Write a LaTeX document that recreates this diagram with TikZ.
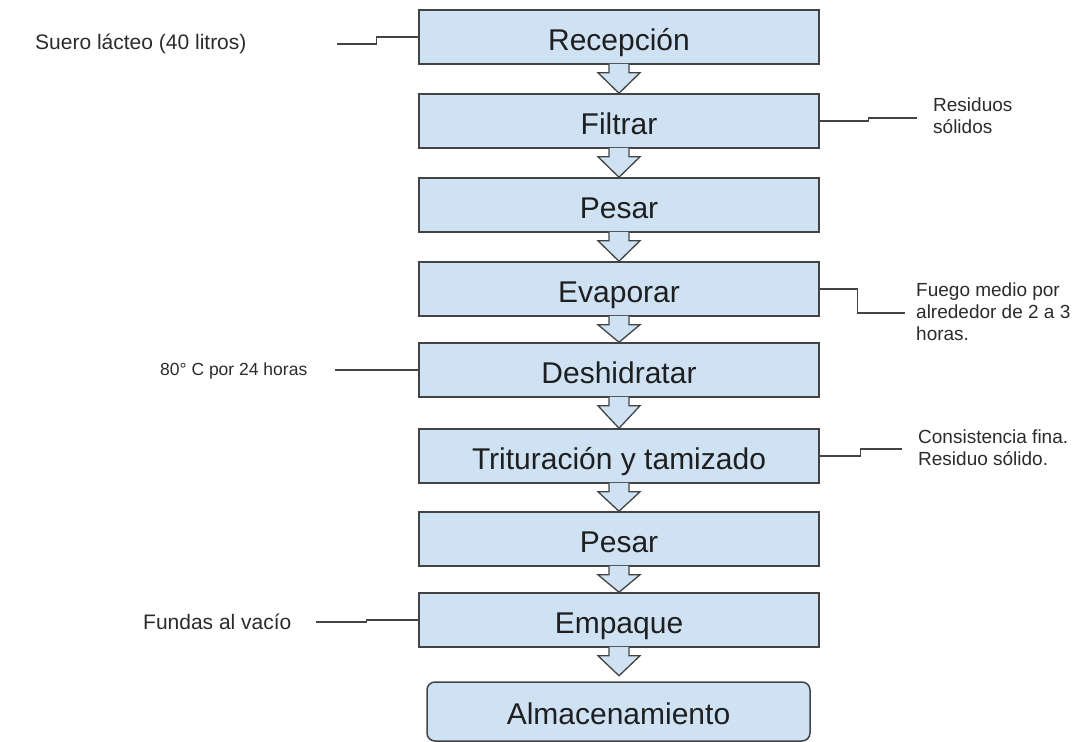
\documentclass[tikz,border=0pt]{standalone}
\usepackage{fontspec}
\setmainfont{Liberation Sans}
\usetikzlibrary{calc}
\definecolor{boxfill}{HTML}{CFE2F3}
\definecolor{boxline}{HTML}{434343}
\definecolor{txt}{HTML}{1F1F1F}
\definecolor{notetxt}{HTML}{2B2B2B}
\newcommand{\flowarrow}[2]{%
  \fill[boxfill] ($(#1)+(-10,-1)$) -- ($(#1)+(-10,8)$) -- ($(#1)+(-21,8)$) -- (#2) -- ($(#1)+(21,8)$) -- ($(#1)+(10,8)$) -- ($(#1)+(10,-1)$) -- cycle;
  \draw[draw=boxline, line width=1.3pt, line join=miter] ($(#1)+(-10,-0.75)$) -- ($(#1)+(-10,8)$) -- ($(#1)+(-21,8)$) -- (#2) -- ($(#1)+(21,8)$) -- ($(#1)+(10,8)$) -- ($(#1)+(10,-0.75)$);
}
\begin{document}
\begin{tikzpicture}[x=1pt,y=-1pt,
  stepbox/.style={draw=boxline, fill=boxfill, line width=1.5pt, minimum width=400pt, minimum height=54pt, inner sep=0pt, text height=26pt, text depth=0pt, font=\fontsize{30}{36}\selectfont, text=txt},
  endbox/.style={stepbox, minimum width=383pt, minimum height=59pt, rounded corners=8pt},
  link/.style={draw=boxline, line width=1.3pt},
  note/.style={anchor=west, align=left, text=notetxt, inner sep=0pt},
  bignote/.style={note, font=\fontsize{21}{25}\selectfont},
  smallnote/.style={note, font=\fontsize{19}{22}\selectfont},
  ]
\useasboundingbox (0,0) rectangle (1080,742);

% process steps
\node[stepbox] (n1) at (619,37) {Recepción};
\node[stepbox] (n2) at (619,121) {Filtrar};
\node[stepbox] (n3) at (619,205) {Pesar};
\node[stepbox] (n4) at (619,289) {Evaporar};
\node[stepbox] (n5) at (619,370) {Deshidratar};
\node[stepbox] (n6) at (619,456) {Trituración y tamizado};
\node[stepbox] (n7) at (619,539) {Pesar};
\node[stepbox] (n8) at (619,620) {Empaque};
\node[endbox] (n9) at (618.5,711.5) {Almacenamiento};

% block arrows
\flowarrow{n1.south}{n2.north}
\flowarrow{n2.south}{n3.north}
\flowarrow{n3.south}{n4.north}
\flowarrow{n4.south}{n5.north}
\flowarrow{n5.south}{n6.north}
\flowarrow{n6.south}{n7.north}
\flowarrow{n7.south}{n8.north}
\flowarrow{n8.south}{$(n8.south)+(0,28)$}

% side notes
\node[bignote] (l1) at (35,44) {Suero lácteo (40 litros)};
\node[smallnote] (l2) at (933,116) {Residuos\\sólidos};
\node[smallnote] (l4) at (916,311.5) {Fuego medio por\\alrededor de 2 a 3\\horas.};
\node[note, font=\fontsize{17.5}{21}\selectfont] (l5) at (160,371) {80° C por 24 horas};
\node[smallnote] (l6) at (918,448) {Consistencia fina.\\Residuo sólido.};
\node[bignote] (l8) at (143,622) {Fundas al vacío};

% connector ends
\coordinate (e1) at (337,44);
\coordinate (e2) at (917,118);
\coordinate (e4) at (905,313);
\coordinate (e5) at (335,370);
\coordinate (e6) at (902,449);
\coordinate (e8) at (316,622);

\draw[link] (n1.west) -- ++(-42,0) |- (e1);
\draw[link] (n2.east) -- ++(49,0) |- (e2);
\draw[link] (n4.east) -- ++(38,0) |- (e4);
\draw[link] (n5.west) -- (e5);
\draw[link] (n6.east) -- ++(41,0) |- (e6);
\draw[link] (n8.west) -- ++(-52,0) |- (e8);
\end{tikzpicture}
\end{document}
